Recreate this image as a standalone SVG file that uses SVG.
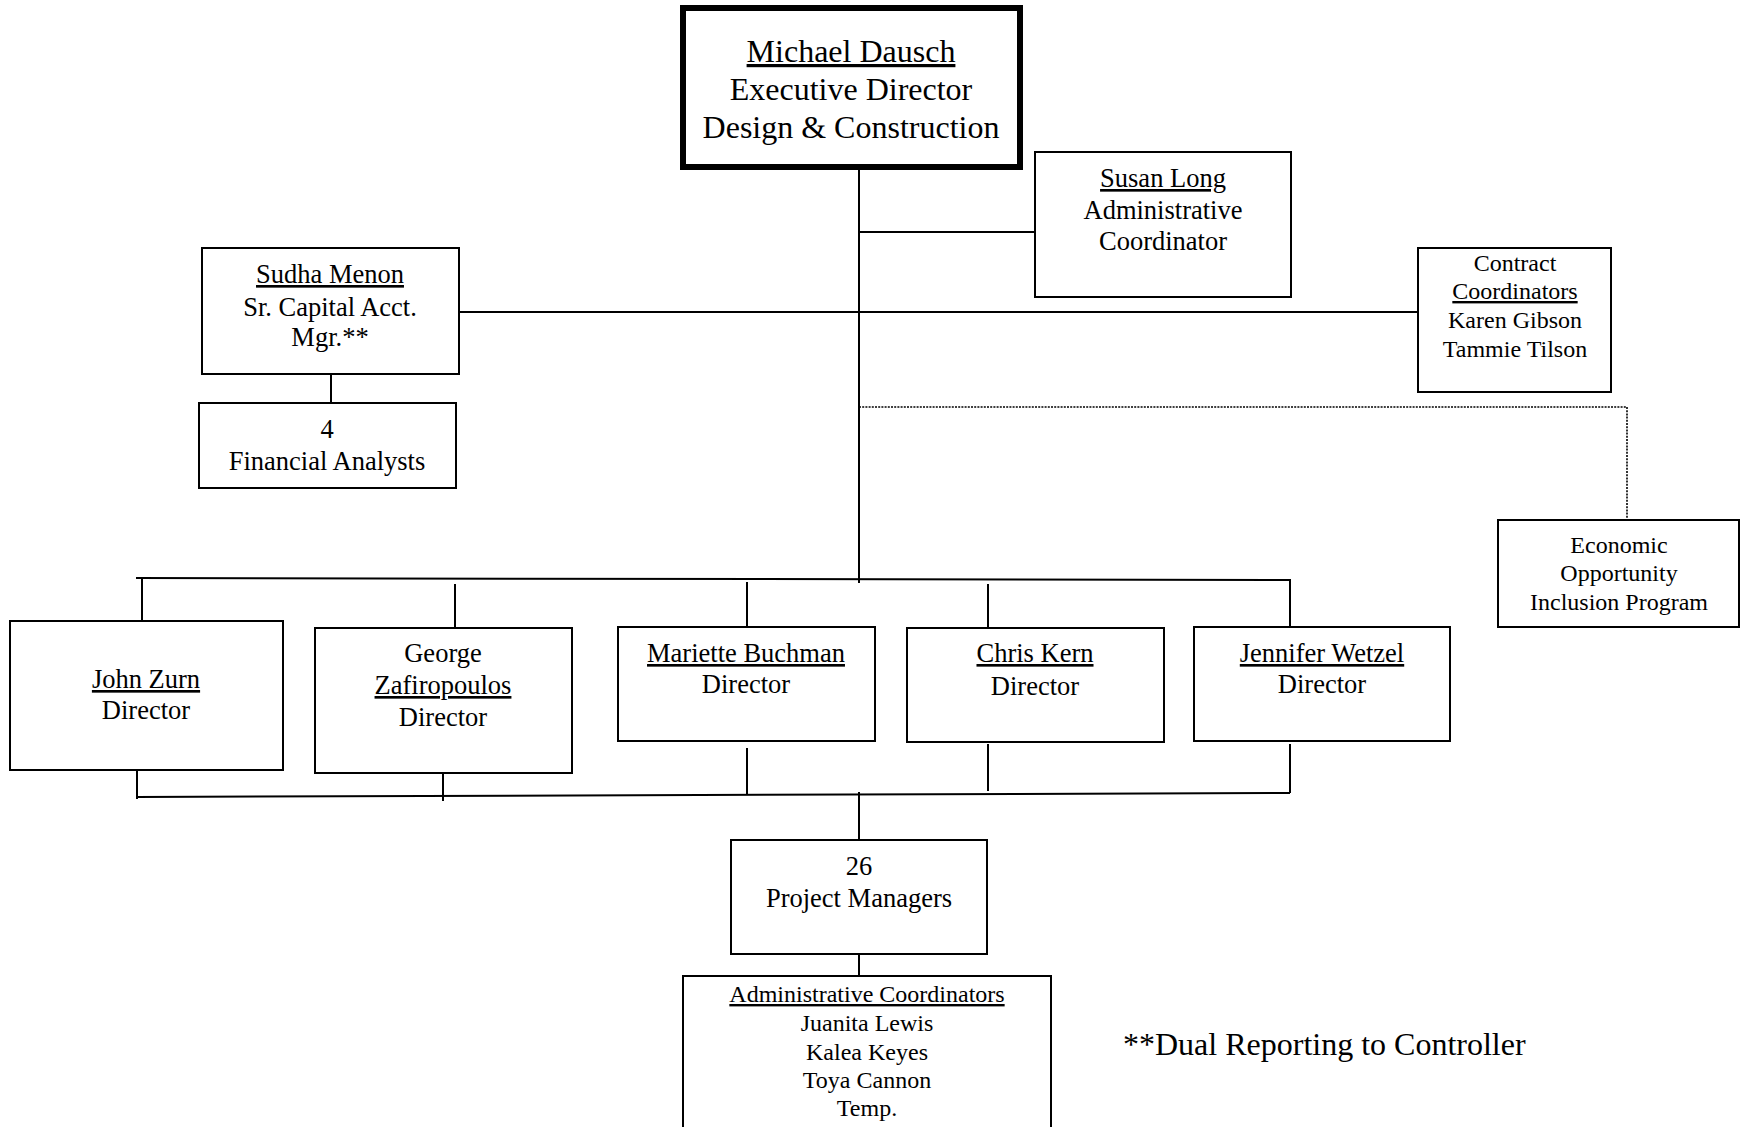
<svg xmlns="http://www.w3.org/2000/svg" width="1742" height="1127" viewBox="0 0 1742 1127">
<style>
  .box { fill: #ffffff; stroke: #000000; stroke-width: 2; }
  .main { fill: #ffffff; stroke: #000000; stroke-width: 6; }
  .ln { fill: none; stroke: #000000; stroke-width: 2; }
  .dot { fill: none; stroke: #000000; stroke-width: 1.6; stroke-dasharray: 2 1.2; }
  text { font-family: "Liberation Serif", "Times New Roman", serif; fill: #000000; text-anchor: middle; }
  .t32 { font-size: 32px; }
  .t26 { font-size: 26.5px; }
  .t24 { font-size: 24px; }
  .u { text-decoration: underline; }
</style>
<rect x="0" y="0" width="1742" height="1127" fill="#ffffff"/>
<g id="connectors">
  <path class="ln" d="M859 168 V583"/>
  <path class="ln" d="M859 232 H1035"/>
  <path class="ln" d="M459 312 H1418"/>
  <path class="ln" d="M331 374 V403"/>
  <path class="dot" d="M859 407 H1627 V520"/>
  <path class="ln" d="M136 578 L1290 580"/>
  <path class="ln" d="M142 578 V621"/>
  <path class="ln" d="M455 584 V628"/>
  <path class="ln" d="M747 582 V627"/>
  <path class="ln" d="M988 584 V628"/>
  <path class="ln" d="M1290 579 V627"/>
  <path class="ln" d="M137 770 V799"/>
  <path class="ln" d="M443 773 V801"/>
  <path class="ln" d="M747 748 V795"/>
  <path class="ln" d="M988 744 V791"/>
  <path class="ln" d="M1290 744 V793"/>
  <path class="ln" d="M137 797 L1290 793"/>
  <path class="ln" d="M859 792 V840"/>
  <path class="ln" d="M859 954 V976"/>
</g>
<g id="node-dausch">
  <rect class="main" x="683" y="8" width="337" height="159"/>
  <text class="t32 u" x="851" y="62">Michael Dausch</text>
  <text class="t32" x="851" y="100">Executive Director</text>
  <text class="t32" x="851" y="138">Design &amp; Construction</text>
</g>
<g id="node-long">
  <rect class="box" x="1035" y="152" width="256" height="145"/>
  <text class="t26 u" x="1163" y="187">Susan Long</text>
  <text class="t26" x="1163" y="219">Administrative</text>
  <text class="t26" x="1163" y="250">Coordinator</text>
</g>
<g id="node-menon">
  <rect class="box" x="202" y="248" width="257" height="126"/>
  <text class="t26 u" x="330" y="283">Sudha Menon</text>
  <text class="t26" x="330" y="316">Sr. Capital Acct.</text>
  <text class="t26" x="330" y="346">Mgr.**</text>
</g>
<g id="node-analysts">
  <rect class="box" x="199" y="403" width="257" height="85"/>
  <text class="t26" x="327" y="438">4</text>
  <text class="t26" x="327" y="470">Financial Analysts</text>
</g>
<g id="node-contract">
  <rect class="box" x="1418" y="248" width="193" height="144"/>
  <text class="t24" x="1515" y="271">Contract</text>
  <text class="t24 u" x="1515" y="299">Coordinators</text>
  <text class="t24" x="1515" y="328">Karen Gibson</text>
  <text class="t24" x="1515" y="357">Tammie Tilson</text>
</g>
<g id="node-eoip">
  <rect class="box" x="1498" y="520" width="241" height="107"/>
  <text class="t24" x="1619" y="553">Economic</text>
  <text class="t24" x="1619" y="581">Opportunity</text>
  <text class="t24" x="1619" y="610">Inclusion Program</text>
</g>
<g id="node-zurn">
  <rect class="box" x="10" y="621" width="273" height="149"/>
  <text class="t26 u" x="146" y="688">John Zurn</text>
  <text class="t26" x="146" y="719">Director</text>
</g>
<g id="node-zafiropoulos">
  <rect class="box" x="315" y="628" width="257" height="145"/>
  <text class="t26" x="443" y="662">George</text>
  <text class="t26 u" x="443" y="694">Zafiropoulos</text>
  <text class="t26" x="443" y="726">Director</text>
</g>
<g id="node-buchman">
  <rect class="box" x="618" y="627" width="257" height="114"/>
  <text class="t26 u" x="746" y="662">Mariette Buchman</text>
  <text class="t26" x="746" y="693">Director</text>
</g>
<g id="node-kern">
  <rect class="box" x="907" y="628" width="257" height="114"/>
  <text class="t26 u" x="1035" y="662">Chris Kern</text>
  <text class="t26" x="1035" y="695">Director</text>
</g>
<g id="node-wetzel">
  <rect class="box" x="1194" y="627" width="256" height="114"/>
  <text class="t26 u" x="1322" y="662">Jennifer Wetzel</text>
  <text class="t26" x="1322" y="693">Director</text>
</g>
<g id="node-pm">
  <rect class="box" x="731" y="840" width="256" height="114"/>
  <text class="t26" x="859" y="875">26</text>
  <text class="t26" x="859" y="907">Project Managers</text>
</g>
<g id="node-admin">
  <rect class="box" x="683" y="976" width="368" height="170"/>
  <text class="t24 u" x="867" y="1002">Administrative Coordinators</text>
  <text class="t24" x="867" y="1031">Juanita Lewis</text>
  <text class="t24" x="867" y="1060">Kalea Keyes</text>
  <text class="t24" x="867" y="1088">Toya Cannon</text>
  <text class="t24" x="867" y="1116">Temp.</text>
</g>
<g id="footnote">
  <text class="t32" x="1123" y="1055" style="text-anchor:start">**Dual Reporting to Controller</text>
</g>
</svg>
